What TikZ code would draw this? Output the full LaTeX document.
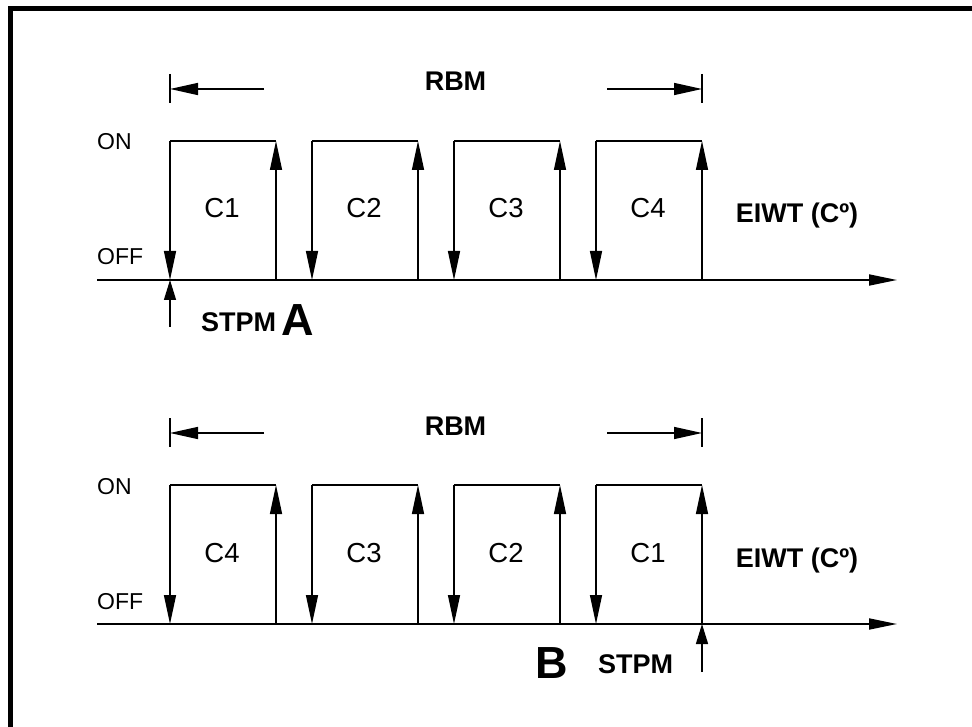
\documentclass[tikz,border=0pt]{standalone}
\usepackage{fontspec}
\setmainfont{Liberation Sans}
\usetikzlibrary{arrows.meta}
\tikzset{
  pulso/.style={line width=1.4pt},
  flecha/.style={line width=1.4pt,-{Triangle[length=29pt,width=12pt]}},
  eje/.style={line width=1.8pt,-{Triangle[length=28pt,width=11pt]}},
  cota/.style={line width=1.4pt,-{Triangle[length=28pt,width=12pt]}},
  marca/.style={line width=1.4pt,-{Triangle[length=20pt,width=12pt]}},
  nivel/.style={anchor=base west,inner sep=0pt,font=\fontsize{23}{25}\selectfont},
  ciclo/.style={anchor=base,inner sep=0pt,font=\fontsize{27.5}{29}\selectfont},
  negrita/.style={inner sep=0pt,font=\bfseries\fontsize{27}{29}\selectfont},
  letra/.style={anchor=base west,inner sep=0pt,font=\bfseries\fontsize{45}{48}\selectfont}
}

\begin{document}
\begin{tikzpicture}[x=1pt,y=-1pt]
\useasboundingbox (0,0) rectangle (972,727);
\draw[line width=4.8pt] (10.5,727) -- (10.5,8.5) -- (972,8.5);
\foreach \p/\dy/\lst in {a/0/{1,2,3,4},b/344/{4,3,2,1}}{
  \coordinate (\p-o) at (97,280+\dy); \coordinate (\p-f) at (897,280+\dy);
  \draw[eje] (\p-o) -- (\p-f);
  \node[nivel] (\p-on) at (97,150+\dy) {ON};
  \node[nivel] (\p-off) at (97,265+\dy) {OFF};
  \node[negrita,anchor=base] (\p-eiwt) at (797,223+\dy) {EIWT (Cº)};
  \node[negrita,anchor=base] (\p-rbm) at (455.5,91+\dy) {RBM};
  \coordinate (\p-t1) at (170,74+\dy); \coordinate (\p-t2) at (170,103+\dy);
  \coordinate (\p-t3) at (702,74+\dy); \coordinate (\p-t4) at (702,103+\dy);
  \coordinate (\p-l) at (170,89+\dy); \coordinate (\p-l0) at (264,89+\dy);
  \coordinate (\p-r) at (702,89+\dy); \coordinate (\p-r0) at (607,89+\dy);
  \draw[pulso] (\p-t1) -- (\p-t2); \draw[pulso] (\p-t3) -- (\p-t4);
  \draw[cota] (\p-l0) -- (\p-l); \draw[cota] (\p-r0) -- (\p-r);
  \foreach \c [count=\i] in \lst {
    \pgfmathsetmacro\xl{170+142*(\i-1)}
    \coordinate (\p\i-a) at (\xl,141+\dy); \coordinate (\p\i-b) at (\xl,280+\dy);
    \coordinate (\p\i-c) at (\xl+106,141+\dy); \coordinate (\p\i-d) at (\xl+106,280+\dy);
    \draw[flecha] (\p\i-a) -- (\p\i-b);
    \draw[pulso] (\p\i-a) -- (\p\i-c);
    \draw[flecha] (\p\i-d) -- (\p\i-c);
    \node[ciclo] (\p\i-n) at (\xl+52,218+\dy) {C\c};
  }
}
\coordinate (sa) at (170,327); \draw[marca] (sa) -- (a1-b);
\node[negrita,anchor=base west] (stpma) at (201,331) {STPM};
\node[letra] (la) at (281,335) {A};
\coordinate (sb) at (702,672); \draw[marca] (sb) -- (b4-d);
\node[letra] (lb) at (535,678) {B};
\node[negrita,anchor=base west] (stpmb) at (598,673) {STPM};
\end{tikzpicture}
\end{document}
